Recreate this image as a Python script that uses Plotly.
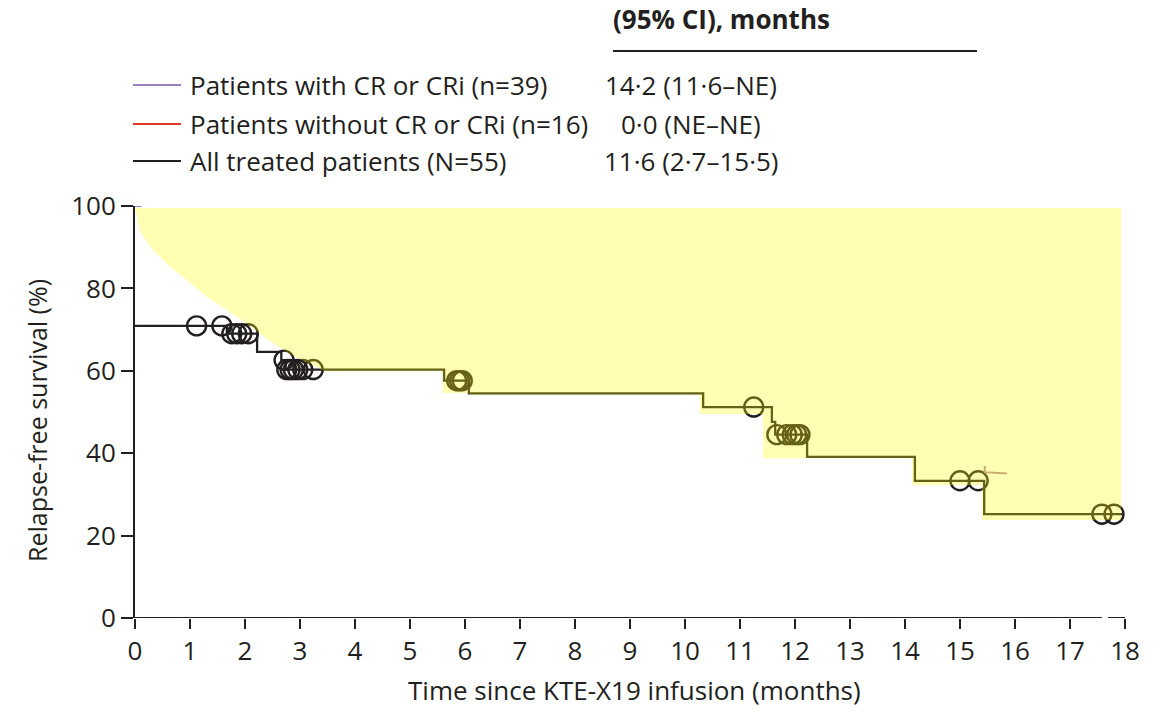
import plotly.graph_objects as go

# ---------------- data ----------------
rfs_event_times = [0, 1.67, 2.22, 2.66, 2.74, 5.62, 6.07, 10.33, 11.58, 11.64, 12.22, 14.18, 15.44]
rfs_values = [70.9, 69.0, 64.6, 62.6, 60.3, 57.6, 54.5, 51.2, 47.6, 44.5, 39.1, 33.3, 25.2]
followup_end = 17.95

censor_times = [1.12, 1.58, 1.76, 1.85, 1.94, 2.06, 2.71, 2.76, 2.82, 2.88, 2.96, 3.05, 3.24,
                5.85, 5.90, 5.95, 11.25, 11.67, 11.85, 11.95, 12.03, 12.09, 15.00, 15.33, 17.58, 17.80]

# hand-shaded region: curved upper-left edge ...
ci_curve_times = [0, 0.03, 0.09, 0.21, 0.33, 0.64, 0.95, 1.31, 1.70, 2.10, 2.50, 2.90, 3.25, 3.45]
ci_curve_values = [99.5, 97.4, 94.2, 91.3, 89.3, 85.2, 82.0, 77.9, 74.5, 70.8, 66.8, 63.5, 61.3, 59.9]
# ... and stepped lower edge (level holds from each time to the next)
ci_lower_times = [3.45, 5.59, 6.07, 10.27, 11.42, 12.22, 14.13, 15.40]
ci_lower_values = [59.9, 54.6, 54.2, 49.5, 38.8, 38.8, 32.3, 23.8]
ci_top = 99.5
ci_right = 17.93

# visible fragments of the CR / CRi curve
cr_start_times = [0, 0.12]
cr_start_values = [100, 100]
cr_fragment_times = [15.45, 15.45, 15.85]
cr_fragment_values = [36.9, 35.4, 35.1]

x_ticks = list(range(0, 19))
y_ticks = [0, 20, 40, 60, 80, 100]

legend_labels = ["Patients with CR or CRi (n=39)",
                 "Patients without CR or CRi (n=16)",
                 "All treated patients (N=55)"]
legend_medians = ["14·2 (11·6–NE)", "0·0 (NE–NE)", "11·6 (2·7–15·5)"]
legend_colors = ["#9b80c4", "#e2382a", "#231f20"]
header_text = "(95% CI), months"
x_title = "Time since KTE-X19 infusion (months)"
y_title = "Relapse-free survival (%)"

# ---------------- styling ----------------
INK = "#231f20"
FONT = "Open Sans"
FS = 26
W, H = 1173, 713
ML, MR, MT, MB = 135, 48, 206, 95
PW, PH = W - ML - MR, H - MT - MB


def px_x(px):
    return (px - ML) / PW


def px_y(py):
    return (H - MB - py) / PH


def level_at(t):
    v = rfs_values[0]
    for et, ev in zip(rfs_event_times, rfs_values):
        if et <= t:
            v = ev
    return v


fig = go.Figure()

# KM step line
step_x = rfs_event_times + [followup_end]
step_y = rfs_values + [rfs_values[-1]]
fig.add_trace(go.Scatter(x=step_x, y=step_y, mode="lines", line=dict(color=INK, width=2.3, shape="hv"),
                         hoverinfo="skip", showlegend=False, cliponaxis=False))

# censor marks
fig.add_trace(go.Scatter(x=censor_times, y=[level_at(t) for t in censor_times], mode="markers",
                         marker=dict(symbol="circle-open", size=19, color=INK, line=dict(width=2.4)),
                         hoverinfo="skip", showlegend=False, cliponaxis=False))

# CR fragments
fig.add_trace(go.Scatter(x=cr_start_times, y=cr_start_values, mode="lines",
                         line=dict(color=legend_colors[0], width=2),
                         hoverinfo="skip", showlegend=False, cliponaxis=False))
fig.add_trace(go.Scatter(x=cr_fragment_times, y=cr_fragment_values, mode="lines",
                         line=dict(color="#b58aa0", width=2),
                         hoverinfo="skip", showlegend=False, cliponaxis=False))

# shaded region polygon (drawn over the curve, semi-transparent)
poly_x = [ci_curve_times[0], ci_right]
poly_y = [ci_top, ci_top]
seg_ends = ci_lower_times[1:] + [ci_right]
for j in range(len(ci_lower_times) - 1, -1, -1):
    poly_x += [seg_ends[j], ci_lower_times[j]]
    poly_y += [ci_lower_values[j], ci_lower_values[j]]
poly_x += list(reversed(ci_curve_times))
poly_y += list(reversed(ci_curve_values))
fig.add_trace(go.Scatter(x=poly_x, y=poly_y, mode="lines", fill="toself",
                         fillcolor="rgba(255,252,0,0.30)", line=dict(width=0, color="rgba(0,0,0,0)"),
                         hoverinfo="skip", showlegend=False))

# x axis line (with small break as in the picture)
shapes = [
    dict(type="line", xref="x", yref="y", x0=0, x1=17.58, y0=0, y1=0, line=dict(color=INK, width=2)),
    dict(type="line", xref="x", yref="y", x0=17.69, x1=18, y0=0, y1=0, line=dict(color=INK, width=2)),
]

annotations = []
# header
annotations.append(dict(x=px_x(611), y=px_y(19), xref="paper", yref="paper", text=f"<b>{header_text}</b>",
                        showarrow=False, xanchor="left", yanchor="middle",
                        font=dict(family=FONT, size=FS, color=INK)))
shapes.append(dict(type="line", xref="paper", yref="paper", x0=px_x(613), x1=px_x(977),
                   y0=px_y(51), y1=px_y(51), line=dict(color=INK, width=2)))

legend_rows_py = [85, 124, 161]
for lab, med, col, py in zip(legend_labels, legend_medians, legend_colors, legend_rows_py):
    shapes.append(dict(type="line", xref="paper", yref="paper", x0=px_x(133), x1=px_x(181),
                       y0=px_y(py), y1=px_y(py), line=dict(color=col, width=2)))
    annotations.append(dict(x=px_x(188), y=px_y(py), xref="paper", yref="paper", text=lab,
                            showarrow=False, xanchor="left", yanchor="middle",
                            font=dict(family=FONT, size=FS, color=INK)))
    annotations.append(dict(x=px_x(691), y=px_y(py), xref="paper", yref="paper", text=med,
                            showarrow=False, xanchor="center", yanchor="middle",
                            font=dict(family=FONT, size=FS, color=INK)))

# axis titles
annotations.append(dict(x=px_x(37), y=px_y(421), xref="paper", yref="paper", text=y_title,
                        textangle=-90, showarrow=False, xanchor="center", yanchor="middle",
                        font=dict(family=FONT, size=25, color=INK)))
annotations.append(dict(x=px_x(634), y=px_y(690), xref="paper", yref="paper", text=x_title,
                        showarrow=False, xanchor="center", yanchor="middle",
                        font=dict(family=FONT, size=FS, color=INK)))

fig.update_layout(
    width=W, height=H,
    margin=dict(l=ML, r=MR, t=MT, b=MB),
    paper_bgcolor="white", plot_bgcolor="white",
    font=dict(family=FONT, size=FS, color=INK),
    shapes=shapes, annotations=annotations,
    showlegend=False,
    xaxis=dict(range=[0, 18], tickvals=x_ticks, ticks="outside", ticklen=10, tickwidth=2, tickcolor=INK,
               showline=False, showgrid=False, zeroline=False,
               tickfont=dict(family=FONT, size=FS, color=INK)),
    yaxis=dict(range=[0, 100], tickvals=y_ticks, ticks="outside", ticklen=12, tickwidth=2, tickcolor=INK,
               showline=True, linecolor=INK, linewidth=2, showgrid=False, zeroline=False,
               tickfont=dict(family=FONT, size=FS, color=INK)),
)

fig.write_html("out.html")
